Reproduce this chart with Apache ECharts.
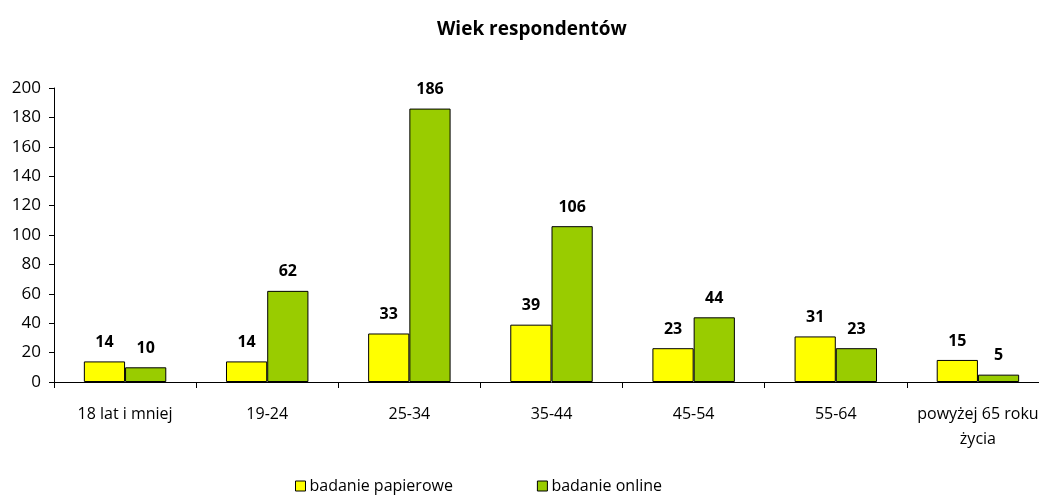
<!DOCTYPE html>
<html><head><meta charset="utf-8">
<script src="https://cdn.jsdelivr.net/npm/echarts@6/dist/echarts.min.js"></script>
<style>html,body{margin:0;padding:0;background:#fff;overflow:hidden}#c{width:1049px;height:495px}</style>
</head><body><div id="c"></div>
<script>
const categories = ['18 lat i mniej','19-24','25-34','35-44','45-54','55-64','powyżej 65 roku\nżycia'];
const paper = [14,14,33,39,23,31,15];
const online = [10,62,186,106,44,23,5];
const yTicks = {min:0,max:200,interval:20};
const FONT = '"Open Sans", "Noto Sans", sans-serif';
const chart = echarts.init(document.getElementById('c'));
const lbl = {show:true, position:'top', distance:11, color:'#000', fontWeight:'bold', fontSize:16, fontFamily:FONT};
chart.setOption({
  animation:false,
  title:{text:'Wiek respondentów', left:432, top:15, textStyle:{fontFamily:FONT, fontSize:19, fontWeight:'bold', color:'#000'}},
  legend:{top:473, left:290, itemGap:84, itemWidth:10, itemHeight:10, icon:'rect',
    textStyle:{fontFamily:FONT, fontSize:16, color:'#000', padding:[0,0,0,-1]},
    itemStyle:{borderColor:'#000', borderWidth:1},
    data:[{name:'badanie papierowe'},{name:'badanie online'}]},
  grid:{left:54, top:88, right:0, height:294, containLabel:false},
  xAxis:{type:'category', data:categories,
    axisLine:{lineStyle:{color:'#000', width:1}},
    axisTick:{show:true, length:6, lineStyle:{color:'#000'}},
    axisLabel:{color:'#000', fontFamily:FONT, fontSize:16, margin:20, lineHeight:25, interval:0}},
  yAxis:{type:'value', min:yTicks.min, max:yTicks.max, interval:yTicks.interval,
    splitLine:{show:false},
    axisLine:{show:true, lineStyle:{color:'#000'}},
    axisTick:{show:true, length:5, lineStyle:{color:'#000'}},
    axisLabel:{color:'#000', fontFamily:FONT, fontSize:17, margin:13}},
  series:[
    {name:'badanie papierowe', type:'bar', data:paper, barGap:'0%', barCategoryGap:'42%',
     itemStyle:{color:'#FFFF00', borderColor:'#000', borderWidth:1}, label:lbl},
    {name:'badanie online', type:'bar', data:online,
     itemStyle:{color:'#99CC00', borderColor:'#000', borderWidth:1}, label:lbl}
  ]
});
</script></body></html>
